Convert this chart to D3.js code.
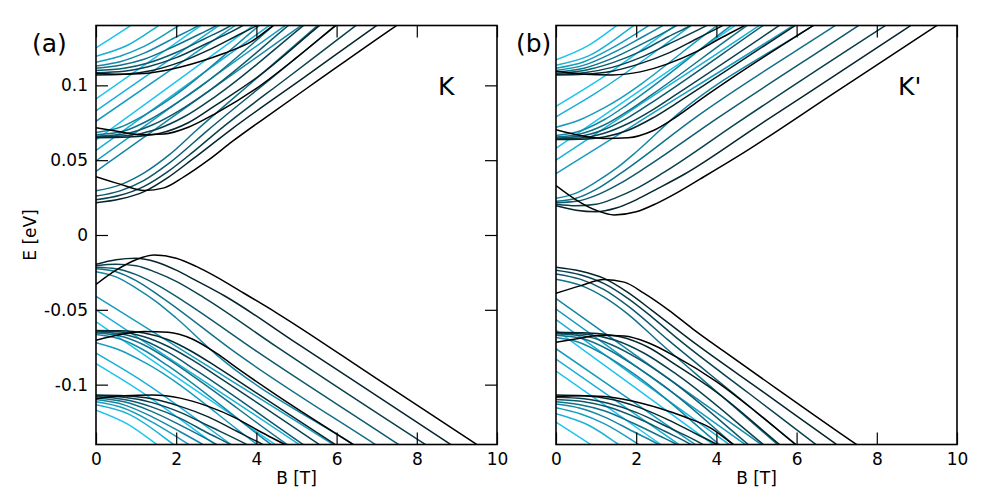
<!DOCTYPE html>
<html>
<head>
<meta charset="utf-8">
<script src="https://cdn.jsdelivr.net/npm/d3@7"></script>
<style>
  body { margin: 0; background: #fff; }
  svg text { font-family: "DejaVu Sans", sans-serif; fill: #000; }
</style>
</head>
<body>
<svg id="chart" width="1000" height="500"></svg>
<script>
//// Axis ticks
const xTicks = [0, 2, 4, 6, 8, 10];
const yTicks = [0.1, 0.05, 0, -0.05, -0.1];
const yTickLabels = ['0.1', '0.05', '0', '-0.05', '-0.1'];

//// Levels, [B (T), E (eV)], index 0 = black ... 8 = cyan
// valley K, panel (a)
const kCond1 = [
  [[0,.039],[.6,.034],[1.2,.0298],[1.7,.0315],[2.2,.039],[2.8,.05],[3.4,.0625],[4.2,.078],[5.5,.1026],[7.53,.1406],[8.5,.158]],
  [[0,.0215],[.6,.024],[1.2,.029],[1.8,.0385],[2.4,.0505],[3.36,.0703],[5.2,.1055],[7.03,.1406],[8,.159]],
  [[0,.0235],[.6,.0265],[1.2,.0325],[1.8,.0425],[2.4,.055],[3.08,.0703],[4.8,.1056],[6.51,.1406],[7.5,.161]],
  [[0,.026],[.6,.0295],[1.2,.0365],[1.8,.0475],[2.8,.0703],[4.4,.1053],[6.01,.1406],[7,.162]],
  [[0,.0295],[.6,.0335],[1.2,.0415],[1.8,.053],[2.52,.0703],[4,.1046],[5.55,.1406],[6.5,.1626]],
  [[0,.0425],[2.5,.0901],[5.15,.1406],[6,.1568]],
  [[0,.0495],[2.5,.0975],[4.75,.1406],[5.6,.157]],
  [[0,.0565],[2.5,.1048],[4.35,.1406],[5.2,.157]],
  [[0,.0635],[2,.1025],[3.95,.1406],[4.8,.157]]
];
const kCond2 = [
  [[0,.0716],[.6,.069],[1.1,.067],[1.7,.0675],[2.3,.072],[3,.0815],[4,.098],[5,.1185],[6,.1406],[7,.162]],
  [[0,.065],[.8,.0655],[1.6,.068],[2.3,.075],[3,.087],[4,.105],[5.6,.1406],[6.5,.16]],
  [[0,.0655],[.8,.0665],[1.5,.0705],[2.2,.079],[3,.093],[5.2,.1406],[6,.158]],
  [[0,.066],[.8,.068],[1.4,.0735],[2.1,.0835],[2.8,.096],[4.82,.1406],[5.6,.158]],
  [[0,.067],[.7,.0695],[1.3,.0765],[2,.088],[2.6,.099],[4.45,.1406],[5.2,.158]],
  [[0,.0685],[.6,.072],[1.2,.08],[1.9,.092],[4.1,.1406],[5,.16]],
  [[0,.076],[2,.1129],[3.5,.1406],[4.2,.1535]],
  [[0,.083],[2,.1202],[3.1,.1406],[4,.157]],
  [[0,.091],[1.5,.1191],[2.65,.1406],[3.5,.156]]
];
const kCond3 = [
  [[0,.108],[.6,.1075],[1.2,.108],[1.9,.111],[2.6,.116],[3.2,.1215],[3.86,.129],[4.45,.1406],[5,.151]],
  [[0,.107],[.7,.1075],[1.4,.11],[2.1,.1155],[2.8,.1235],[3.5,.133],[4.05,.1406],[4.8,.155]],
  [[0,.1085],[.7,.1095],[1.3,.1125],[2,.1185],[2.8,.1285],[3.7,.1406],[4.5,.156]],
  [[0,.11],[.7,.1115],[1.3,.115],[2,.122],[2.7,.131],[3.4,.1406],[4.2,.157]],
  [[0,.1115],[.6,.1135],[1.2,.1175],[1.9,.1255],[2.6,.1345],[3.05,.1406],[4,.159]],
  [[0,.113],[.6,.1158],[1.2,.1215],[1.9,.131],[2.6,.1406],[3.4,.155]],
  [[0,.1155],[.6,.1195],[1.2,.126],[2.1,.1406],[2.9,.155]],
  [[0,.1195],[.8,.127],[1.6,.1406],[2.4,.155]],
  [[0,.125],[.9,.1406],[1.8,.157]]
];
const kVal1 = [
  [[0,-.033],[.5,-.0235],[1,-.0165],[1.45,-.0134],[2,-.0155],[2.5,-.021],[3,-.028],[3.6,-.0375],[4.5,-.052],[7,-.096],[9.53,-.1406],[10.5,-.158]],
  [[0,-.0195],[.5,-.0165],[1,-.0155],[1.5,-.018],[2,-.0235],[2.5,-.0305],[3.2,-.0406],[5,-.0723],[8.88,-.1406],[9.8,-.157]],
  [[0,-.0205],[.5,-.0195],[1,-.0205],[1.5,-.025],[2,-.031],[2.7,-.042],[4.5,-.0746],[8.25,-.1406],[9.2,-.157]],
  [[0,-.0215],[.5,-.0225],[1,-.0265],[1.6,-.0345],[2.2,-.0445],[4,-.0776],[7.58,-.1406],[8.5,-.157]],
  [[0,-.0225],[.5,-.0245],[1,-.0305],[1.6,-.041],[3.5,-.079],[7,-.1406],[8,-.158]],
  [[0,-.0245],[.5,-.028],[1,-.0355],[1.5,-.0445],[2,-.0555],[3,-.0799],[6.45,-.1406],[7.4,-.157]],
  [[0,-.041],[2,-.0745],[5.95,-.1406],[6.9,-.157]],
  [[0,-.05],[2,-.0855],[5.1,-.1406],[6,-.157]],
  [[0,-.058],[2,-.0948],[4.5,-.1406],[5.4,-.157]]
];
const kVal2 = [
  [[0,-.0703],[.6,-.0665],[1.2,-.0645],[1.8,-.065],[2.4,-.0695],[3,-.079],[3.6,-.0905],[4.5,-.107],[6.45,-.1406],[7.3,-.155]],
  [[0,-.0638],[.6,-.064],[1.2,-.0655],[1.8,-.07],[2.4,-.078],[3,-.088],[4,-.1055],[6,-.1406],[7,-.158]],
  [[0,-.0642],[.6,-.0648],[1.2,-.068],[1.8,-.0745],[2.4,-.0835],[3,-.094],[5.6,-.1406],[6.5,-.157]],
  [[0,-.0648],[.6,-.066],[1.2,-.0705],[1.8,-.0785],[2.5,-.0905],[5.2,-.1406],[6.1,-.157]],
  [[0,-.0655],[.6,-.0675],[1.2,-.0735],[1.8,-.083],[2.4,-.094],[4.8,-.1406],[5.7,-.157]],
  [[0,-.0665],[.6,-.0695],[1.2,-.077],[1.8,-.0875],[4.4,-.1406],[5.3,-.158]],
  [[0,-.072],[.6,-.077],[1.2,-.085],[4.05,-.1406],[5,-.159]],
  [[0,-.079],[1,-.095],[3.4,-.1406],[4.3,-.158]],
  [[0,-.086],[1,-.1025],[3,-.1406],[4,-.159]]
];
const kVal3 = [
  [[0,-.1095],[.7,-.1075],[1.4,-.107],[2.1,-.109],[2.8,-.1145],[3.5,-.1225],[4.1,-.1315],[4.75,-.1406],[5.5,-.152]],
  [[0,-.107],[.7,-.1075],[1.4,-.1095],[2.1,-.1145],[2.8,-.1215],[3.5,-.131],[4.2,-.1406],[5,-.153]],
  [[0,-.1075],[.7,-.1085],[1.4,-.112],[2.1,-.1185],[2.8,-.1275],[3.8,-.1406],[4.6,-.153]],
  [[0,-.108],[.7,-.11],[1.4,-.115],[2.1,-.1225],[2.8,-.1325],[3.4,-.1406],[4.2,-.154]],
  [[0,-.109],[.7,-.1115],[1.4,-.118],[2.1,-.127],[3.05,-.1406],[3.9,-.155]],
  [[0,-.11],[.7,-.1135],[1.4,-.1215],[2.1,-.1315],[2.7,-.1406],[3.5,-.155]],
  [[0,-.1115],[.7,-.1158],[1.4,-.125],[2.35,-.1406],[3.2,-.156]],
  [[0,-.1135],[.8,-.1195],[1.97,-.1406],[2.8,-.157]],
  [[0,-.117],[.8,-.1265],[1.55,-.1406],[2.4,-.157]]
];

// valley K', panel (b)
const kpCond1 = [
  [[0,.033],[.5,.0235],[1,.0165],[1.45,.0134],[2,.0155],[2.5,.021],[3,.028],[3.6,.0375],[4.5,.052],[7,.096],[9.53,.1406],[10.5,.158]],
  [[0,.0195],[.5,.0165],[1,.0155],[1.5,.018],[2,.0235],[2.5,.0305],[3.2,.0406],[5,.0723],[8.88,.1406],[9.8,.157]],
  [[0,.0205],[.5,.0195],[1,.0205],[1.5,.025],[2,.031],[2.7,.042],[4.5,.0746],[8.25,.1406],[9.2,.157]],
  [[0,.0215],[.5,.0225],[1,.0265],[1.6,.0345],[2.2,.0445],[4,.0776],[7.58,.1406],[8.5,.157]],
  [[0,.0225],[.5,.0245],[1,.0305],[1.6,.041],[3.5,.079],[7,.1406],[8,.158]],
  [[0,.0245],[.5,.028],[1,.0355],[1.5,.0445],[2,.0555],[3,.0799],[6.45,.1406],[7.4,.157]],
  [[0,.041],[2,.0745],[5.95,.1406],[6.9,.157]],
  [[0,.05],[2,.0855],[5.1,.1406],[6,.157]],
  [[0,.058],[2,.0948],[4.5,.1406],[5.4,.157]]
];
const kpCond2 = [
  [[0,.0703],[.6,.0665],[1.2,.0645],[1.8,.065],[2.4,.0695],[3,.079],[3.6,.0905],[4.5,.107],[6.45,.1406],[7.3,.155]],
  [[0,.0638],[.6,.064],[1.2,.0655],[1.8,.07],[2.4,.078],[3,.088],[4,.1055],[6,.1406],[7,.158]],
  [[0,.0642],[.6,.0648],[1.2,.068],[1.8,.0745],[2.4,.0835],[3,.094],[5.6,.1406],[6.5,.157]],
  [[0,.0648],[.6,.066],[1.2,.0705],[1.8,.0785],[2.5,.0905],[5.2,.1406],[6.1,.157]],
  [[0,.0655],[.6,.0675],[1.2,.0735],[1.8,.083],[2.4,.094],[4.8,.1406],[5.7,.157]],
  [[0,.0665],[.6,.0695],[1.2,.077],[1.8,.0875],[4.4,.1406],[5.3,.158]],
  [[0,.072],[.6,.077],[1.2,.085],[4.05,.1406],[5,.159]],
  [[0,.079],[1,.095],[3.4,.1406],[4.3,.158]],
  [[0,.086],[1,.1025],[3,.1406],[4,.159]]
];
const kpCond3 = [
  [[0,.1095],[.7,.1075],[1.4,.107],[2.1,.109],[2.8,.1145],[3.5,.1225],[4.1,.1315],[4.75,.1406],[5.5,.152]],
  [[0,.107],[.7,.1075],[1.4,.1095],[2.1,.1145],[2.8,.1215],[3.5,.131],[4.2,.1406],[5,.153]],
  [[0,.1075],[.7,.1085],[1.4,.112],[2.1,.1185],[2.8,.1275],[3.8,.1406],[4.6,.153]],
  [[0,.108],[.7,.11],[1.4,.115],[2.1,.1225],[2.8,.1325],[3.4,.1406],[4.2,.154]],
  [[0,.109],[.7,.1115],[1.4,.118],[2.1,.127],[3.05,.1406],[3.9,.155]],
  [[0,.11],[.7,.1135],[1.4,.1215],[2.1,.1315],[2.7,.1406],[3.5,.155]],
  [[0,.1115],[.7,.1158],[1.4,.125],[2.35,.1406],[3.2,.156]],
  [[0,.1135],[.8,.1195],[1.97,.1406],[2.8,.157]],
  [[0,.117],[.8,.1265],[1.55,.1406],[2.4,.157]]
];
const kpVal1 = [
  [[0,-.039],[.6,-.034],[1.2,-.0298],[1.7,-.0315],[2.2,-.039],[2.8,-.05],[3.4,-.0625],[4.2,-.078],[5.5,-.1026],[7.53,-.1406],[8.5,-.158]],
  [[0,-.0215],[.6,-.024],[1.2,-.029],[1.8,-.0385],[2.4,-.0505],[3.36,-.0703],[5.2,-.1055],[7.03,-.1406],[8,-.159]],
  [[0,-.0235],[.6,-.0265],[1.2,-.0325],[1.8,-.0425],[2.4,-.055],[3.08,-.0703],[4.8,-.1056],[6.51,-.1406],[7.5,-.161]],
  [[0,-.026],[.6,-.0295],[1.2,-.0365],[1.8,-.0475],[2.8,-.0703],[4.4,-.1053],[6.01,-.1406],[7,-.162]],
  [[0,-.0295],[.6,-.0335],[1.2,-.0415],[1.8,-.053],[2.52,-.0703],[4,-.1046],[5.55,-.1406],[6.5,-.1626]],
  [[0,-.0425],[2.5,-.0901],[5.15,-.1406],[6,-.1568]],
  [[0,-.0495],[2.5,-.0975],[4.75,-.1406],[5.6,-.157]],
  [[0,-.0565],[2.5,-.1048],[4.35,-.1406],[5.2,-.157]],
  [[0,-.0635],[2,-.1025],[3.95,-.1406],[4.8,-.157]]
];
const kpVal2 = [
  [[0,-.0716],[.6,-.069],[1.1,-.067],[1.7,-.0675],[2.3,-.072],[3,-.0815],[4,-.098],[5,-.1185],[6,-.1406],[7,-.162]],
  [[0,-.065],[.8,-.0655],[1.6,-.068],[2.3,-.075],[3,-.087],[4,-.105],[5.6,-.1406],[6.5,-.16]],
  [[0,-.0655],[.8,-.0665],[1.5,-.0705],[2.2,-.079],[3,-.093],[5.2,-.1406],[6,-.158]],
  [[0,-.066],[.8,-.068],[1.4,-.0735],[2.1,-.0835],[2.8,-.096],[4.82,-.1406],[5.6,-.158]],
  [[0,-.067],[.7,-.0695],[1.3,-.0765],[2,-.088],[2.6,-.099],[4.45,-.1406],[5.2,-.158]],
  [[0,-.0685],[.6,-.072],[1.2,-.08],[1.9,-.092],[4.1,-.1406],[5,-.16]],
  [[0,-.076],[2,-.1129],[3.5,-.1406],[4.2,-.1535]],
  [[0,-.083],[2,-.1202],[3.1,-.1406],[4,-.157]],
  [[0,-.091],[1.5,-.1191],[2.65,-.1406],[3.5,-.156]]
];
const kpVal3 = [
  [[0,-.108],[.6,-.1075],[1.2,-.108],[1.9,-.111],[2.6,-.116],[3.2,-.1215],[3.86,-.129],[4.45,-.1406],[5,-.151]],
  [[0,-.107],[.7,-.1075],[1.4,-.11],[2.1,-.1155],[2.8,-.1235],[3.5,-.133],[4.05,-.1406],[4.8,-.155]],
  [[0,-.1085],[.7,-.1095],[1.3,-.1125],[2,-.1185],[2.8,-.1285],[3.7,-.1406],[4.5,-.156]],
  [[0,-.11],[.7,-.1115],[1.3,-.115],[2,-.122],[2.7,-.131],[3.4,-.1406],[4.2,-.157]],
  [[0,-.1115],[.6,-.1135],[1.2,-.1175],[1.9,-.1255],[2.6,-.1345],[3.05,-.1406],[4,-.159]],
  [[0,-.113],[.6,-.1158],[1.2,-.1215],[1.9,-.131],[2.6,-.1406],[3.4,-.155]],
  [[0,-.1155],[.6,-.1195],[1.2,-.126],[2.1,-.1406],[2.9,-.155]],
  [[0,-.1195],[.8,-.127],[1.6,-.1406],[2.4,-.155]],
  [[0,-.125],[.9,-.1406],[1.8,-.157]]
];

//// Layout
const plotTop = 25.5;
const plotBottom = 444.5;
const tickLen = 12;
const fontSize = 17;

const panels = [
  { id: 'a', left: 96, right: 497, tag: '(a)', tagX: 32, valley: 'K', valleyX: 438,
    yLabels: true, families: [kCond1, kCond2, kCond3, kVal1, kVal2, kVal3] },
  { id: 'b', left: 556, right: 957, tag: '(b)', tagX: 516, valley: "K'", valleyX: 898,
    yLabels: false, families: [kpCond1, kpCond2, kpCond3, kpVal1, kpVal2, kpVal3] }
];

// black -> cyan, a little faster out of black
const lineColor = d3.scalePow()
  .exponent(0.8)
  .domain([0, 8])
  .range(['#000000', '#1dc4ef'])
  .interpolate(d3.interpolateRgb);

const svg = d3.select('#chart');

panels.forEach(p => {
  const x = d3.scaleLinear().domain([0, 10]).range([p.left, p.right]);
  const y = d3.scaleLinear().domain([-0.14, 0.14]).range([plotBottom, plotTop]);

  svg.append('clipPath')
    .attr('id', 'clip-' + p.id)
    .append('rect')
    .attr('x', p.left).attr('y', plotTop)
    .attr('width', p.right - p.left).attr('height', plotBottom - plotTop);

  const line = d3.line()
    .x(d => x(d[0]))
    .y(d => y(d[1]))
    .curve(d3.curveMonotoneX);

  // cyan first, black on top
  const curves = [];
  p.families.forEach(fam => fam.forEach((c, i) => curves.push({ pts: c, idx: i })));
  curves.sort((a, b) => b.idx - a.idx);

  svg.append('g')
    .attr('clip-path', `url(#clip-${p.id})`)
    .selectAll('path')
    .data(curves)
    .enter()
    .append('path')
    .attr('d', d => line(d.pts))
    .attr('fill', 'none')
    .attr('stroke', d => lineColor(d.idx))
    .attr('stroke-width', 1.5);

  ////Axes, ticks pointing inward
  const styleAxis = g => {
    g.select('.domain').remove();
    g.attr('font-size', fontSize).attr('font-family', 'DejaVu Sans');
    g.selectAll('line').attr('stroke', '#000').attr('stroke-width', 1.2);
  };

  svg.append('g')
    .attr('transform', `translate(0, ${plotBottom})`)
    .call(d3.axisBottom(x).tickValues(xTicks).tickSize(-tickLen).tickPadding(8))
    .call(styleAxis);

  svg.append('g')
    .attr('transform', `translate(0, ${plotTop})`)
    .call(d3.axisTop(x).tickValues(xTicks).tickSize(-tickLen).tickFormat(''))
    .call(styleAxis);

  if (p.yLabels) {
    svg.append('g')
      .attr('transform', `translate(${p.left}, 0)`)
      .call(d3.axisLeft(y).tickValues(yTicks).tickSize(-tickLen).tickPadding(8)
        .tickFormat((d, i) => yTickLabels[i]))
      .call(styleAxis);

    svg.append('g')
      .attr('transform', `translate(${p.right}, 0)`)
      .call(d3.axisRight(y).tickValues(yTicks).tickSize(-tickLen).tickFormat(''))
      .call(styleAxis);
  }

  svg.append('rect')
    .attr('x', p.left).attr('y', plotTop)
    .attr('width', p.right - p.left).attr('height', plotBottom - plotTop)
    .attr('fill', 'none')
    .attr('stroke', '#000')
    .attr('stroke-width', 1.6);

  svg.append('text')
    .attr('x', (p.left + p.right) / 2)
    .attr('y', 484)
    .attr('text-anchor', 'middle')
    .attr('font-size', fontSize)
    .text('B [T]');

  svg.append('text')
    .attr('x', p.tagX)
    .attr('y', 51.5)
    .attr('font-size', 25)
    .text(p.tag);

  svg.append('text')
    .attr('x', p.valleyX)
    .attr('y', 95)
    .attr('font-size', 25)
    .text(p.valley);
});

svg.append('text')
  .attr('transform', 'translate(36, 235) rotate(-90)')
  .attr('text-anchor', 'middle')
  .attr('font-size', fontSize)
  .text('E [eV]');
</script>
</body>
</html>
